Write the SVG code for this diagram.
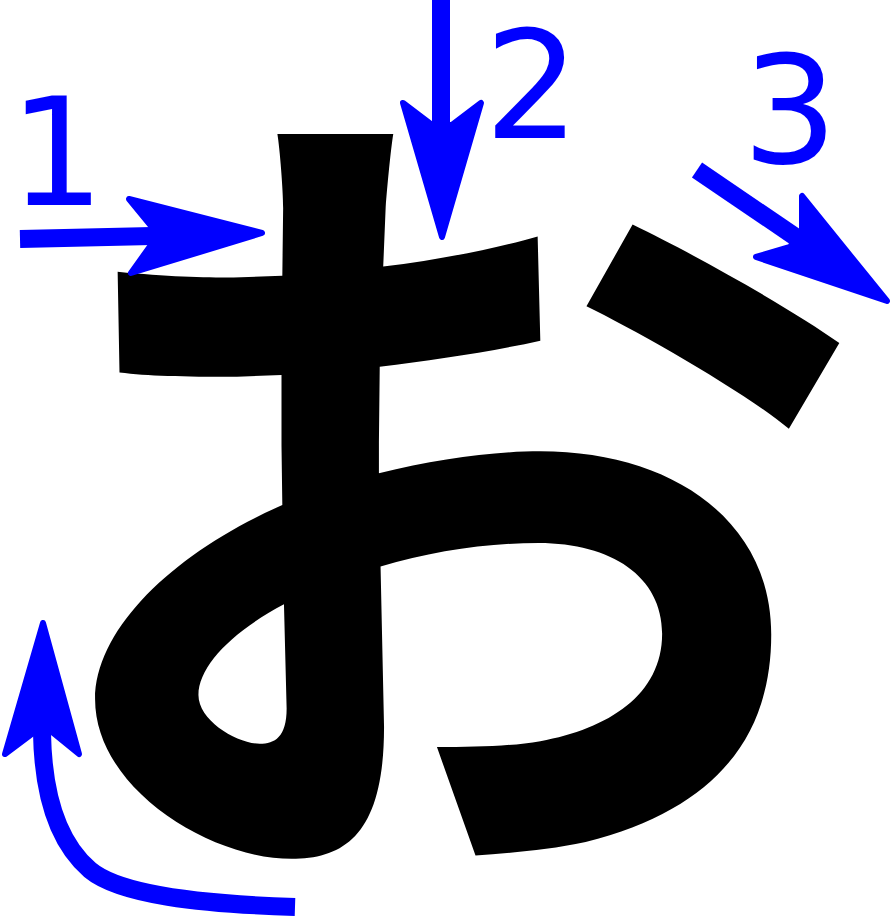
<svg xmlns="http://www.w3.org/2000/svg" width="892" height="918" viewBox="0 0 892 918">
<style>
.shaft{fill:none;stroke:#0000ff;stroke-width:18}
.head{fill:#0000ff;stroke:#0000ff;stroke-width:6;stroke-linejoin:round}
.num{fill:#0000ff;font-family:"DejaVu Sans","Liberation Sans",sans-serif;font-size:150px;text-anchor:middle}
.kana{fill:#000;font-family:"Noto Sans CJK JP","Noto Sans CJK SC",sans-serif;font-weight:700;font-size:840px;text-anchor:middle}
</style>
<rect width="892" height="918" fill="#fff"/>
<g id="character">
<text class="kana" x="447" y="816">お</text>
</g>
<g id="labels">
<text class="num" x="57" y="205">1</text>
<text class="num" x="532" y="138">2</text>
<text class="num" x="790" y="163">3</text>
</g>
<g id="connectors">
<g id="arrow1">
<path class="shaft" d="M20,239 L152,236"/>
<path class="head" d="M262,233 L129,199 L152,227 L151,245 L131,273 Z"/>
</g>
<g id="arrow2">
<path class="shaft" d="M441,0 L441,126"/>
<path class="head" d="M442,237 L403,103 L432,125 L452,125 L481,103 Z"/>
</g>
<g id="arrow3">
<path class="shaft" d="M697,170 L797,238"/>
<path class="head" d="M887,301 L802,196 L802,230 L790,247 L756,257 Z"/>
</g>
<g id="arrow4">
<path class="shaft" d="M295,907 C200,904 120,895 90,870 C55,840 43,790 42,733"/>
<path class="head" d="M43,623 L5,754 L33,733 L52,732 L79,754 Z"/>
</g>
</g>
</svg>
